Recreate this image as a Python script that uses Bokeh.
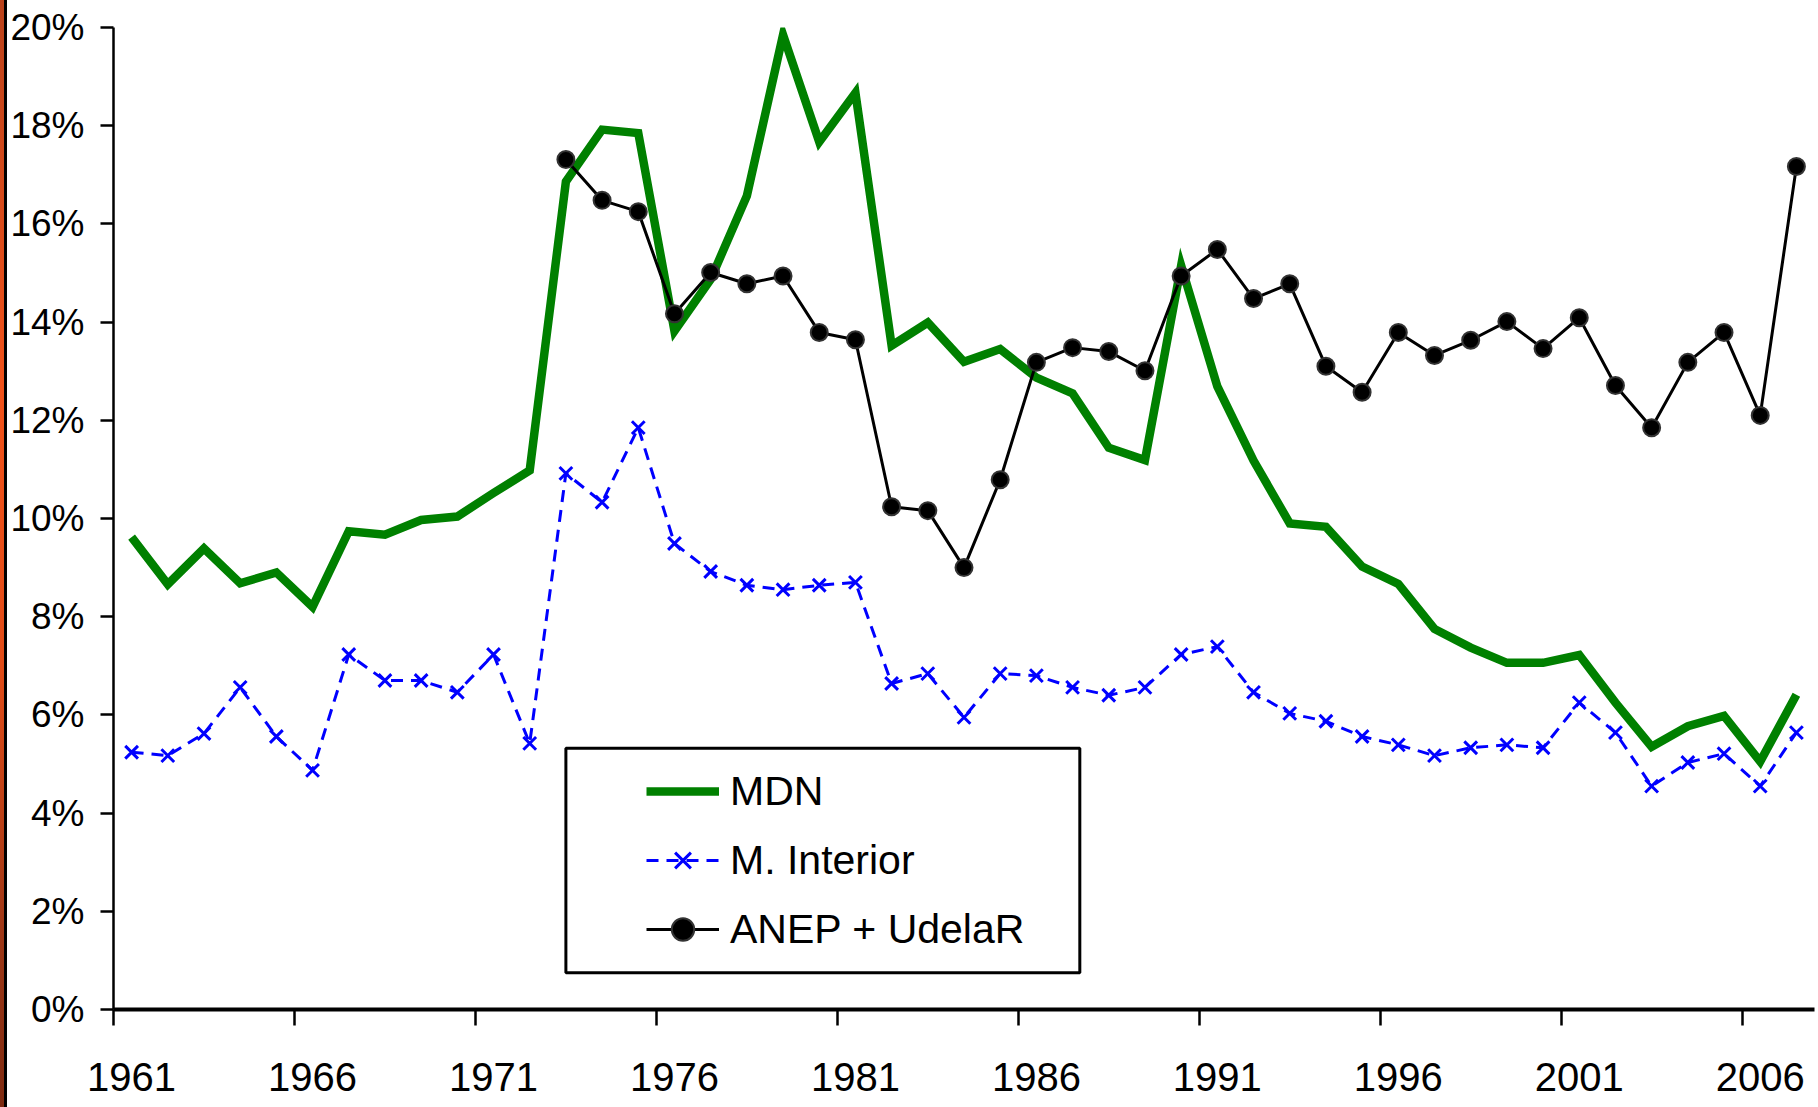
from bokeh.plotting import figure
from bokeh.models import Range1d, FixedTicker, Legend, LegendItem, BoxAnnotation, Div
from bokeh.layouts import row
from bokeh.embed import file_html
from bokeh.resources import INLINE

# ---------------- data ----------------
years = list(range(1961, 2008))
mdn = [9.62, 8.66, 9.39, 8.68, 8.90, 8.20, 9.74, 9.67, 9.97, 10.04,
       10.52, 10.98, 16.86, 17.92, 17.85, 13.82, 14.87, 16.57, 19.85, 17.67,
       18.67, 13.52, 13.99, 13.19, 13.45, 12.87, 12.55, 11.44, 11.19, 15.15,
       12.69, 11.18, 9.90, 9.83, 9.02, 8.67, 7.75, 7.37, 7.06, 7.06,
       7.22, 6.25, 5.35, 5.77, 5.98, 5.05, 6.41]
interior = [5.24, 5.17, 5.62, 6.56, 5.56, 4.87, 7.23, 6.70, 6.70, 6.46,
            7.23, 5.42, 10.92, 10.33, 11.85, 9.49, 8.92, 8.64, 8.55, 8.64,
            8.70, 6.64, 6.84, 5.95, 6.84, 6.80, 6.56, 6.40, 6.56, 7.23,
            7.39, 6.46, 6.03, 5.87, 5.56, 5.39, 5.17, 5.33, 5.39, 5.33,
            6.25, 5.64, 4.55, 5.03, 5.21, 4.55, 5.64]
anep_years = list(range(1973, 2008))
anep = [17.31, 16.48, 16.25, 14.17, 15.01, 14.78, 14.94, 13.79,
        13.64, 10.24, 10.16, 9.00, 10.79, 13.18, 13.48, 13.40, 13.01, 14.94,
        15.48, 14.48, 14.78, 13.10, 12.57, 13.79, 13.32, 13.63, 14.01, 13.46,
        14.09, 12.71, 11.85, 13.18, 13.79, 12.10, 17.17]

series_names = ["MDN", "M. Interior", "ANEP + UdelaR"]
x_tick_years = [1961, 1966, 1971, 1976, 1981, 1986, 1991, 1996, 2001, 2006]
x_tick_labels = ["1961", "1966", "1971", "1976", "1981", "1986", "1991", "1996", "2001", "2006"]
x_boundaries = [1960.5, 1965.5, 1970.5, 1975.5, 1980.5, 1985.5, 1990.5, 1995.5, 2000.5, 2005.5]
y_ticks = [0, 2, 4, 6, 8, 10, 12, 14, 16, 18, 20]
y_tick_labels = ["0%", "2%", "4%", "6%", "8%", "10%", "12%", "14%", "16%", "18%", "20%"]

FONT = "Liberation Sans"
W, H = 1818, 1107
STRIPE = 7

# slide edge decoration on the far left (orange-to-brown stripe + black rule)
edge = Div(text="", width=STRIPE, height=H, margin=0,
           styles={"padding": "0", "margin": "0",
                   "background": "linear-gradient(to right, rgba(0,0,0,0) 0px, rgba(0,0,0,0) 4px, #000 4px, #000 7px), "
                                 "linear-gradient(to bottom, #B9421B 0%, #F0521A 35%, #E04C18 60%, #9C3716 85%, #7E2B11 100%)"})

p = figure(width=W - STRIPE, height=H, output_backend="svg", toolbar_location=None,
           x_range=Range1d(1960.5, 2007.5), y_range=Range1d(0, 20),
           min_border_left=112 - STRIPE, min_border_right=4, min_border_top=27, min_border_bottom=98)
p.outline_line_color = None
p.xgrid.visible = False
p.ygrid.visible = False
p.background_fill_color = "white"
p.border_fill_color = "white"

# x axis
p.xaxis.ticker = FixedTicker(ticks=x_tick_years, minor_ticks=x_boundaries)
p.xaxis.major_label_overrides = {y: s for y, s in zip(x_tick_years, x_tick_labels)}
p.xaxis.major_tick_line_color = None
p.xaxis.major_tick_out = 0
p.xaxis.major_tick_in = 0
p.xaxis.minor_tick_out = 16
p.xaxis.minor_tick_in = 0
p.xaxis.minor_tick_line_width = 2.5
p.xaxis.minor_tick_line_color = "black"
p.xaxis.axis_line_width = 4
p.xaxis.axis_line_color = "black"
p.xaxis.major_label_standoff = 37
p.xaxis.major_label_text_font = FONT
p.xaxis.major_label_text_font_size = "40px"
p.xaxis.major_label_text_color = "black"

# y axis
p.yaxis.ticker = FixedTicker(ticks=y_ticks)
p.yaxis.major_label_overrides = {t: s for t, s in zip(y_ticks, y_tick_labels)}
p.yaxis.minor_tick_line_color = None
p.yaxis.major_tick_out = 13
p.yaxis.major_tick_in = 0
p.yaxis.major_tick_line_width = 2.5
p.yaxis.axis_line_width = 2.5
p.yaxis.axis_line_color = "black"
p.yaxis.major_label_standoff = 16
p.yaxis.major_label_text_font = FONT
p.yaxis.major_label_text_font_size = "37px"
p.yaxis.major_label_text_color = "black"

# legend frame (drawn under the legend entries)
p.add_layout(BoxAnnotation(left=1973.0, right=1987.2, bottom=0.75, top=5.32,
                           fill_color="white", fill_alpha=1.0,
                           line_color="black", line_alpha=1.0, line_width=3,
                           level="overlay"))

# series
r_mdn = p.line(years, mdn, line_color="#008000", line_width=8.5, line_join="miter")
r_int_line = p.line(years, interior, line_color="#0000FF", line_width=3, line_dash="12 8")
r_int_pts = p.scatter(years, interior, marker="x", size=18, line_color="#0000FF", line_width=3)
r_anep_line = p.line(anep_years, anep, line_color="black", line_width=3)
r_anep_pts = p.scatter(anep_years, anep, marker="circle", size=17, fill_color="black",
                       line_color="#333333", line_width=2)

legend = Legend(items=[
    LegendItem(label=series_names[0], renderers=[r_mdn]),
    LegendItem(label=series_names[1], renderers=[r_int_line, r_int_pts]),
    LegendItem(label=series_names[2], renderers=[r_anep_line, r_anep_pts]),
], location=(525, 44), padding=8, margin=0, spacing=13,
   glyph_width=73, glyph_height=56, label_height=56, label_standoff=11,
   border_line_alpha=0, background_fill_alpha=0,
   label_text_font=FONT, label_text_font_size="41px", label_text_color="black")
p.add_layout(legend)

layout = row(edge, p, spacing=0)

open("out.html", "w").write(file_html(layout, INLINE))
